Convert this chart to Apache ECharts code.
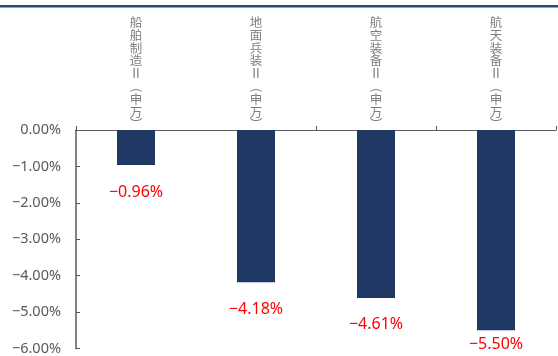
<!DOCTYPE html>
<html>
<head>
<meta charset="utf-8">
<script src="https://cdn.jsdelivr.net/npm/echarts@6/dist/echarts.min.js"></script>
<style>
  html, body { margin: 0; padding: 0; background: #fff; }
  #chart { width: 558px; height: 356px; }
</style>
</head>
<body>
<div id="chart"></div>
<script>
// Sector returns (%), Shenwan level-2 defence sub-industries
const categories = ['船舶制造Ⅱ(申万)', '地面兵装Ⅱ(申万)', '航空装备Ⅱ(申万)', '航天装备Ⅱ(申万)'];
const returns = [-0.96, -4.18, -4.61, -5.50];
const yTicks = [0, -1, -2, -3, -4, -5, -6];

const MINUS = '\u2212';
function pct(v) {
  const s = Math.abs(v).toFixed(2) + '%';
  return v < 0 ? MINUS + s : s;
}

// Stack characters one per line, using vertical forms for brackets
const verticalForms = { '(': '\ufe35', ')': '\ufe36' };
function stackVertical(name) {
  return Array.from(name).map(c => verticalForms[c] || c).join('\n');
}

const chart = echarts.init(document.getElementById('chart'), null, { renderer: 'canvas' });

chart.setOption({
  animation: false,
  backgroundColor: '#ffffff',
  graphic: [{
    type: 'rect',
    shape: { x: 0, y: 5, width: 558, height: 2.5 },
    style: { fill: '#1F4E79' },
    silent: true
  }],
  grid: { left: 76, right: 2, top: 130, bottom: 7, containLabel: false },
  xAxis: {
    type: 'category',
    position: 'top',
    data: categories,
    axisLine: { show: true, lineStyle: { color: '#595959', width: 1 } },
    axisTick: { show: true, interval: 1, length: 4, lineStyle: { color: '#595959' } },
    axisLabel: {
      interval: 0,
      margin: -1,
      color: '#7f7f7f',
      fontSize: 12.5,
      lineHeight: 12.8,
      fontFamily: '"Noto Sans CJK SC", sans-serif',
      formatter: stackVertical
    }
  },
  yAxis: {
    type: 'value',
    min: Math.min(...yTicks),
    max: Math.max(...yTicks),
    interval: 1,
    axisLine: { show: true, lineStyle: { color: '#595959', width: 1.5 } },
    axisTick: { show: true, inside: true, length: 4, lineStyle: { color: '#595959' } },
    splitLine: { show: false },
    axisLabel: {
      margin: 15,
      color: '#595959',
      fontSize: 14.5,
      fontFamily: '"Noto Sans", sans-serif',
      formatter: pct
    }
  },
  series: [{
    type: 'bar',
    barWidth: 38,
    data: returns.map((v, i) => ({
      value: v,
      label: { distance: i === returns.length - 1 ? 6 : 19 }
    })),
    itemStyle: { color: '#203864' },
    label: {
      show: true,
      position: 'bottom',
      color: '#ff0000',
      fontSize: 16,
      fontFamily: '"Noto Sans", sans-serif',
      formatter: p => pct(p.value)
    }
  }]
});
</script>
</body>
</html>
